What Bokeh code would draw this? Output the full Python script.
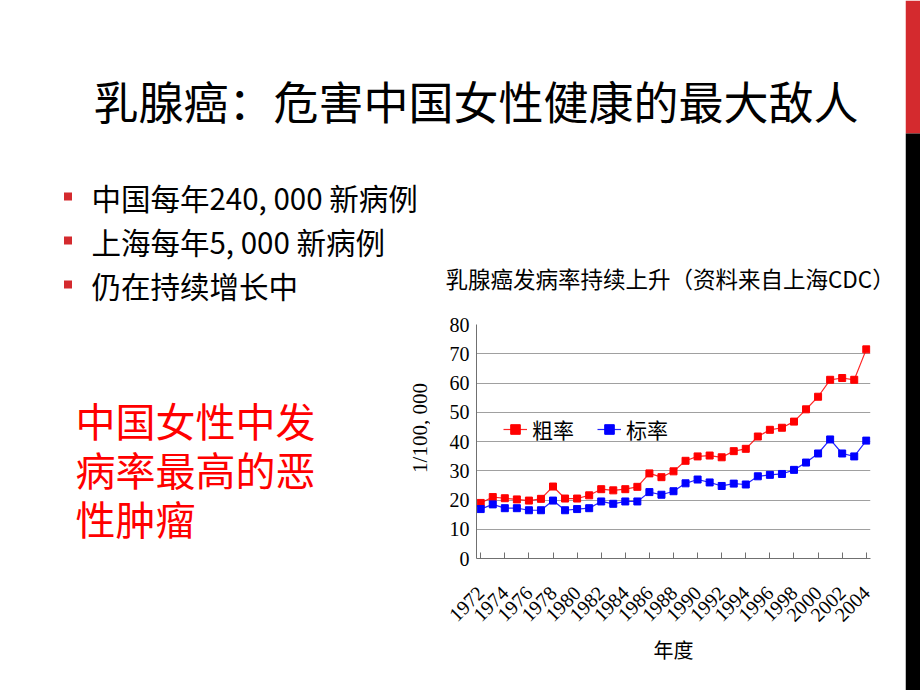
from math import pi
from bokeh.plotting import figure
from bokeh.layouts import column, row
from bokeh.models import Range1d, FixedTicker, Label, BoxAnnotation
from bokeh.embed import file_html
from bokeh.resources import INLINE

# ---------------- data ----------------
years = [1972, 1973, 1974, 1975, 1976, 1977, 1978, 1979, 1980, 1981,
         1982, 1983, 1984, 1985, 1986, 1987, 1988, 1989, 1990, 1991,
         1992, 1993, 1994, 1995, 1996, 1997, 1998, 1999, 2000, 2001,
         2002, 2003, 2004]
crude_rate = [19.0, 21.0, 20.6, 20.2, 19.8, 20.4, 24.6, 20.5, 20.5, 21.6,
              23.7, 23.3, 23.7, 24.5, 29.1, 27.8, 29.8, 33.4, 34.9, 35.2,
              34.6, 36.7, 37.5, 41.7, 44.0, 44.7, 46.8, 51.0, 55.3, 61.1,
              61.7, 61.1, 71.5]
std_rate = [16.9, 18.5, 17.2, 17.2, 16.5, 16.5, 19.8, 16.5, 16.9, 17.2,
            19.5, 18.7, 19.5, 19.5, 22.7, 21.8, 23.0, 25.7, 27.0, 26.0,
            24.8, 25.6, 25.3, 28.1, 28.6, 28.9, 30.3, 32.8, 35.9, 40.7,
            35.9, 34.9, 40.3]
tick_years = [1972, 1974, 1976, 1978, 1980, 1982, 1984, 1986, 1988,
              1990, 1992, 1994, 1996, 1998, 2000, 2002, 2004]
y_ticks = [0, 10, 20, 30, 40, 50, 60, 70, 80]
series_names = ["粗率", "标率"]
series_colors = ["#FF0000", "#0000FF"]

slide_title = "乳腺癌：危害中国女性健康的最大敌人"
bullets = ["中国每年240, 000 新病例", "上海每年5, 000 新病例", "仍在持续增长中"]
highlight_lines = ["中国女性中发", "病率最高的恶", "性肿瘤"]
chart_title = "乳腺癌发病率持续上升（资料来自上海CDC）"
x_label = "年度"
y_label = "1/100, 000"

# ---------------- layout constants ----------------
W, H = 920, 690
BAR_W = 15             # right decorative bar
MAIN_W = W - BAR_W
TOP_H = 308            # height of the top band (slide title, bullets, chart title)
LEFT_W = 430           # width of the left text panel in the lower band
CHART_W = MAIN_W - LEFT_W
LOW_H = H - TOP_H
FL, FR, FT, FB = 476, 870, 324, 558   # chart frame in slide pixels
CJK = "Noto Sans CJK SC"
SERIF = "Liberation Serif"
ACCENT = "#D42A2E"


def blank(width, height, x0, x1, y0, y1, bg="white", **borders):
    b = dict(min_border=0)
    b.update(borders)
    f = figure(width=width, height=height, output_backend="svg", toolbar_location=None,
               x_range=Range1d(x0, x1), y_range=Range1d(y1, y0), title=None,
               x_axis_location=None, y_axis_location=None, **b)
    f.outline_line_color = None
    f.background_fill_color = bg
    f.border_fill_color = bg
    f.grid.visible = False
    return f


def add_text(f, text, x, y, size, color="#000000", font=CJK, align="left", angle=0.0):
    f.add_layout(Label(x=x, y=y, text=text, text_font=font, text_font_size=f"{size}px",
                       text_color=color, text_align=align, text_baseline="middle",
                       angle=angle))


def add_box(f, l, r, t, b, color):
    f.add_layout(BoxAnnotation(left=l, right=r, top=t, bottom=b,
                               fill_color=color, fill_alpha=1.0, line_color=None))


# ---------------- top band ----------------
top = blank(MAIN_W, TOP_H, 0, MAIN_W, 0, TOP_H)
add_text(top, slide_title, 93, 100, 45)
for i, b in enumerate(bullets):
    cy = 196 + 44 * i
    add_box(top, 63.5, 71.5, cy - 4, cy + 4, ACCENT)
    add_text(top, b, 91, cy, 29.5)
add_text(top, chart_title, 445, 277.5, 22.5)

low_borders = dict(min_border_left=0, min_border_right=0,
                   min_border_top=FT - TOP_H, min_border_bottom=H - FB)

# ---------------- lower left text (frame aligned with chart frame rows) ----------------
left = blank(LEFT_W, LOW_H, 0, LEFT_W, FT, FB, **low_borders)
for i, t in enumerate(highlight_lines):
    add_text(left, t, 75, 419.5 + 49 * i, 40, color="#FF0000")
add_text(left, y_label, 419, 427.5, 21, font=SERIF, align="center", angle=pi / 2)

# ---------------- chart ----------------
p = figure(width=CHART_W, height=LOW_H, output_backend="svg", toolbar_location=None,
           title=None, x_range=Range1d(1971.65, 2004.35), y_range=Range1d(0, 80),
           min_border_left=FL - LEFT_W, min_border_right=MAIN_W - FR,
           min_border_top=FT - TOP_H, min_border_bottom=H - FB)
p.outline_line_color = None
p.background_fill_color = "white"
p.border_fill_color = "white"

for vals, name, col in [(crude_rate, series_names[0], series_colors[0]),
                        (std_rate, series_names[1], series_colors[1])]:
    p.line(years, vals, line_color=col, line_width=1.2, line_alpha=0.85, legend_label=name)
    p.scatter(years, vals, marker="square", size=7, fill_color=col, line_color=col,
              legend_label=name)

p.xaxis.ticker = FixedTicker(ticks=tick_years)
p.xaxis.major_label_orientation = pi / 4
p.xaxis.major_label_text_font = SERIF
p.xaxis.major_label_text_font_size = "20px"
p.xaxis.major_label_text_color = "black"
p.xaxis.major_label_standoff = 31
p.xaxis.major_tick_in = 6
p.xaxis.major_tick_out = 0
p.xaxis.minor_tick_line_color = None
p.xaxis.axis_line_color = "#707070"
p.xaxis.major_tick_line_color = "#707070"
p.xaxis.axis_label = x_label
p.xaxis.axis_label_text_font = CJK
p.xaxis.axis_label_text_font_size = "20px"
p.xaxis.axis_label_text_font_style = "normal"
p.xaxis.axis_label_text_color = "black"
p.xaxis.axis_label_standoff = 4

p.yaxis.ticker = FixedTicker(ticks=y_ticks)
p.yaxis.major_label_text_font = SERIF
p.yaxis.major_label_text_font_size = "20px"
p.yaxis.major_label_text_color = "black"
p.yaxis.major_label_standoff = 7
p.yaxis.major_tick_in = 0
p.yaxis.major_tick_out = 0
p.yaxis.minor_tick_line_color = None
p.yaxis.axis_line_color = "#707070"

p.xgrid.visible = False
p.ygrid.ticker = FixedTicker(ticks=y_ticks)
p.ygrid.grid_line_color = "#a0a0a0"
p.ygrid.grid_line_width = 1

lg = p.legend[0]
lg.orientation = "horizontal"
lg.location = (27, 114)
lg.padding = 0
lg.margin = 0
lg.spacing = 23
lg.glyph_width = 24
lg.glyph_height = 24
lg.label_height = 24
lg.label_standoff = 5
lg.label_text_font = CJK
lg.label_text_font_size = "21px"
lg.label_text_color = "black"
lg.border_line_color = None
lg.background_fill_alpha = 0

# ---------------- right decorative bar (full height) ----------------
bar = blank(BAR_W, H, 0, BAR_W, 0, H)
add_box(bar, 0, BAR_W, 0, 133, ACCENT)
add_box(bar, 0, BAR_W, 133, H, "#000000")

layout = row(column(top, row(left, p, spacing=0), spacing=0), bar, spacing=0)
open("out.html", "w").write(file_html(layout, INLINE))
